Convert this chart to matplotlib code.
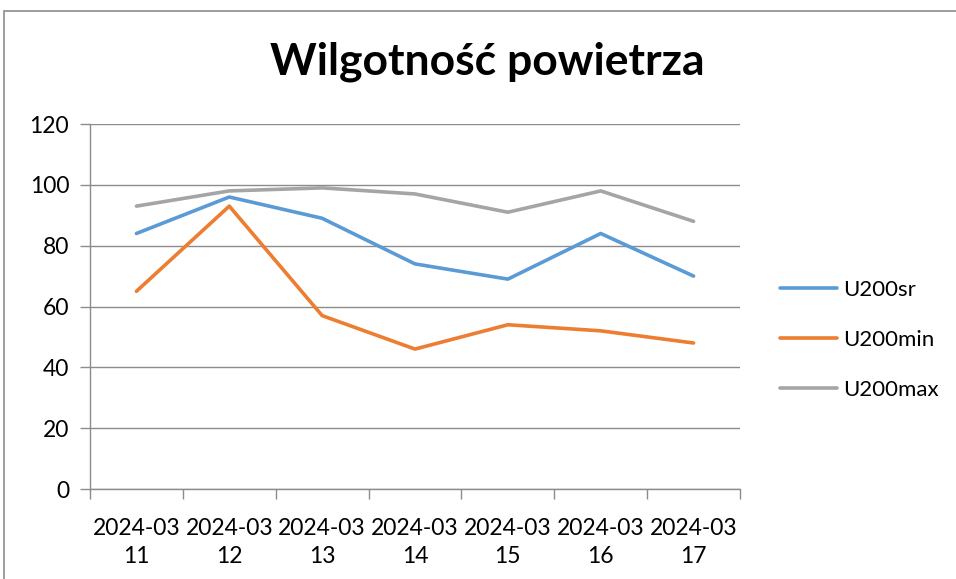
import numpy as np
import matplotlib.pyplot as plt
from matplotlib.patches import Rectangle

# data
dates = ['2024-03\n11', '2024-03\n12', '2024-03\n13', '2024-03\n14',
         '2024-03\n15', '2024-03\n16', '2024-03\n17']
u_sr = [84, 96, 89, 74, 69, 84, 70]
u_min = [65, 93, 57, 46, 54, 52, 48]
u_max = [93, 98, 99, 97, 91, 98, 88]

plt.rcParams['font.family'] = ['Lato', 'DejaVu Sans']

fig = plt.figure(figsize=(9.56, 5.79), dpi=100)
# chart area border (cut off at right/bottom like the screenshot)
fig.patches.append(Rectangle((4 / 956, -0.1), 1.2, 1 - 11 / 579 + 0.1,
                             transform=fig.transFigure, fill=False,
                             edgecolor='#8c8c8c', linewidth=1.2))

ax = fig.add_axes([90 / 956, 1 - 489 / 579, 650 / 956, 365 / 579])
x = np.arange(len(dates))
ax.plot(x, u_sr, color='#5B9BD5', lw=2.6, label='U200sr', solid_capstyle='round')
ax.plot(x, u_min, color='#ED7D31', lw=2.6, label='U200min', solid_capstyle='round')
ax.plot(x, u_max, color='#A5A5A5', lw=2.6, label='U200max', solid_capstyle='round')

ax.set_xlim(-0.5, len(dates) - 0.5)
ax.set_ylim(0, 120)
ax.set_yticks(range(0, 121, 20))
ax.set_xticks(x)
ax.set_xticklabels(dates, fontsize=16.5, linespacing=1.4)
ax.set_xticks(np.arange(-0.5, len(dates), 1), minor=True)
ax.tick_params(axis='x', which='major', length=0, pad=21)
ax.tick_params(axis='x', which='minor', length=7, color='#8c8c8c', width=1)
ax.tick_params(axis='y', length=7, color='#8c8c8c', width=1, labelsize=16.5, pad=8)
ax.grid(axis='y', color='#8c8c8c', lw=1)
ax.set_axisbelow(True)
for s in ['top', 'right']:
    ax.spines[s].set_visible(False)
for s in ['left', 'bottom']:
    ax.spines[s].set_color('#8c8c8c')
    ax.spines[s].set_linewidth(1)

fig.text(487 / 956, 1 - 62 / 579, 'Wilgotność powietrza', fontsize=32,
         fontweight='bold', ha='center', va='center')

ax.legend(loc='center left', bbox_to_anchor=(1.03, 0.408), frameon=False,
          fontsize=16, handlelength=2.6, handletextpad=0.25, labelspacing=1.35)

fig.savefig('out.png', dpi=100)
